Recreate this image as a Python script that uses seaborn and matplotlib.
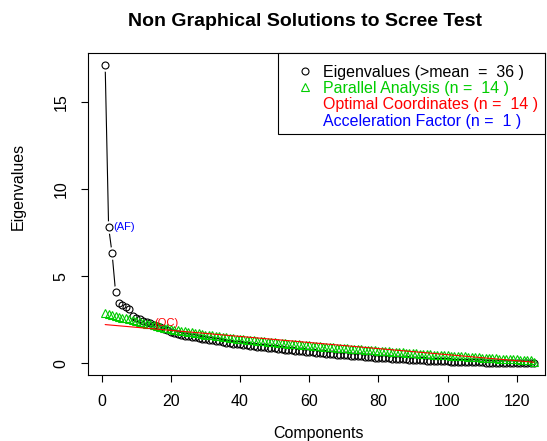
import numpy as np
import pandas as pd
import matplotlib
matplotlib.use("Agg")
import matplotlib.pyplot as plt
from matplotlib.lines import Line2D
from matplotlib.patches import Rectangle
import seaborn as sns

# ---------------- data ----------------
eigenvalues = [
    17.10, 7.80, 6.31, 4.11, 3.44, 3.33, 3.25, 3.10, 2.71, 2.62,
    2.52, 2.44, 2.37, 2.30, 2.22, 2.14, 2.06, 1.98, 1.89, 1.80,
    1.75, 1.69, 1.64, 1.59, 1.55, 1.51, 1.48, 1.44, 1.41, 1.38,
    1.35, 1.31, 1.28, 1.25, 1.22, 1.19, 1.16, 1.13, 1.11, 1.08,
    1.06, 1.03, 1.01, 0.98, 0.96, 0.94, 0.92, 0.90, 0.87, 0.85,
    0.83, 0.81, 0.78, 0.76, 0.74, 0.72, 0.70, 0.68, 0.66, 0.64,
    0.62, 0.60, 0.58, 0.57, 0.55, 0.53, 0.52, 0.50, 0.48, 0.47,
    0.45, 0.43, 0.42, 0.40, 0.39, 0.37, 0.36, 0.35, 0.33, 0.32,
    0.31, 0.29, 0.28, 0.27, 0.26, 0.25, 0.23, 0.22, 0.21, 0.20,
    0.19, 0.18, 0.17, 0.16, 0.15, 0.14, 0.13, 0.12, 0.12, 0.11,
    0.10, 0.09, 0.08, 0.08, 0.07, 0.07, 0.06, 0.06, 0.05, 0.05,
    0.04, 0.04, 0.04, 0.03, 0.03, 0.03, 0.03, 0.02, 0.02, 0.02,
    0.02, 0.02, 0.01, 0.01, 0.01,
]
parallel = [
    2.88, 2.83, 2.78, 2.72, 2.67, 2.62, 2.57, 2.52, 2.47, 2.42,
    2.37, 2.32, 2.28, 2.23, 2.18, 2.14, 2.10, 2.05, 2.01, 1.97,
    1.93, 1.90, 1.86, 1.83, 1.80, 1.77, 1.74, 1.71, 1.68, 1.65,
    1.62, 1.60, 1.57, 1.55, 1.52, 1.50, 1.47, 1.45, 1.42, 1.40,
    1.38, 1.36, 1.34, 1.32, 1.30, 1.28, 1.26, 1.24, 1.22, 1.20,
    1.18, 1.16, 1.14, 1.13, 1.11, 1.09, 1.08, 1.06, 1.05, 1.03,
    1.01, 1.00, 0.98, 0.96, 0.95, 0.93, 0.92, 0.90, 0.89, 0.87,
    0.86, 0.84, 0.83, 0.81, 0.80, 0.78, 0.77, 0.75, 0.74, 0.72,
    0.71, 0.69, 0.68, 0.67, 0.65, 0.64, 0.62, 0.61, 0.60, 0.58,
    0.57, 0.56, 0.54, 0.53, 0.52, 0.50, 0.49, 0.48, 0.46, 0.45,
    0.44, 0.43, 0.41, 0.40, 0.39, 0.38, 0.37, 0.35, 0.34, 0.33,
    0.32, 0.31, 0.30, 0.29, 0.27, 0.26, 0.25, 0.24, 0.23, 0.22,
    0.21, 0.20, 0.18, 0.17, 0.06,
]
components = list(range(1, len(eigenvalues) + 1))

oc_components = [1, 125]
oc_values = [2.22, 0.06]

n_mean = 36
n_parallel = 14
n_oc = 14
n_af = 1
af_label_component = 2
oc_label_component = 14

x_ticks = [0, 20, 40, 60, 80, 100, 120]
y_ticks = [0, 5, 10, 15]

title = "Non Graphical Solutions to Scree Test"
x_label = "Components"
y_label = "Eigenvalues"

GREEN = "#00CD00"
RED = "#FF0000"
BLUE = "#0000FF"

# ---------------- style ----------------
sns.set_theme(style="white")
plt.rcParams["font.family"] = ["Liberation Sans", "DejaVu Sans"]
plt.rcParams["axes.edgecolor"] = "black"

df = pd.DataFrame({"Component": components, "Eigenvalue": eigenvalues, "Parallel": parallel})
df_oc = pd.DataFrame({"Component": oc_components, "OC": oc_values})

W, H = 547, 441
fig = plt.figure(figsize=(W / 100, H / 100), dpi=100)
left, right, top, bottom = 88, 545, 52.7, 375
ax = fig.add_axes([left / W, 1 - bottom / H, (right - left) / W, (bottom - top) / H])

# eigenvalues: type "b" (line with gaps around points)
sns.lineplot(data=df, x="Component", y="Eigenvalue", ax=ax, color="black",
             linewidth=0.8, zorder=2, estimator=None, sort=False)
sns.lineplot(data=df, x="Component", y="Eigenvalue", ax=ax, color="white",
             linestyle="none", marker="o", markersize=9, markeredgecolor="none",
             markerfacecolor="white", zorder=2.1, estimator=None, sort=False)
sns.lineplot(data=df, x="Component", y="Eigenvalue", ax=ax, color="black",
             linestyle="none", marker="o", markersize=5.0, markerfacecolor="none",
             markeredgecolor="black", markeredgewidth=0.8, zorder=2.2,
             estimator=None, sort=False)

# parallel analysis
sns.lineplot(data=df, x="Component", y="Parallel", ax=ax, color=GREEN,
             linestyle="none", marker="^", markersize=6, markerfacecolor="none",
             markeredgecolor=GREEN, markeredgewidth=0.8, zorder=3,
             estimator=None, sort=False)

# optimal coordinates line
sns.lineplot(data=df_oc, x="Component", y="OC", ax=ax, color=RED,
             linewidth=0.8, zorder=3.5, estimator=None, sort=False)

# labels (AF) and (OC)
ax.annotate("(AF)", xy=(af_label_component, eigenvalues[af_label_component - 1]),
            xytext=(3, 0), textcoords="offset points", color=BLUE, fontsize=8,
            ha="left", va="center", zorder=5)
ax.annotate("(OC)", xy=(oc_label_component, eigenvalues[oc_label_component - 1]),
            xytext=(3, 0), textcoords="offset points", color=RED, fontsize=8,
            ha="left", va="center", zorder=5)

# axes
x0_px, x120_px = 101.7, 516.7
ppu = (x120_px - x0_px) / 120
ax.set_xlim((left - x0_px) / ppu, (right - x0_px) / ppu)
y0_px, y15_px = 363.3, 101.7
ppy = (y0_px - y15_px) / 15
ax.set_ylim(-(bottom - y0_px) / ppy, (y0_px - top) / ppy)
ax.set_xticks(x_ticks)
ax.set_yticks(y_ticks)
ax.set_xticklabels([str(t) for t in x_ticks])
ax.set_yticklabels([str(t) for t in y_ticks])
ax.tick_params(axis="both", direction="out", length=5, width=0.8, color="black",
               labelsize=11.5, pad=9, labelcolor="black", bottom=True, left=True)
ax.tick_params(axis="y", labelrotation=90)
for lab in ax.get_yticklabels():
    lab.set_va("center")
for sp in ax.spines.values():
    sp.set_visible(True)
    sp.set_linewidth(0.8)
    sp.set_color("black")

ax.set_xlabel(x_label, fontsize=11.5, color="black")
ax.set_ylabel(y_label, fontsize=11.5, color="black")
ax.xaxis.set_label_coords((319 - left) / (right - left), -(434 - bottom) / (bottom - top))
ax.yaxis.set_label_coords(-(left - 18) / (right - left), (bottom - 186.5) / (bottom - top))
ax.xaxis.label.set_va("center")
ax.yaxis.label.set_va("center")

fig.text(305.5 / W, 1 - 22 / H, title, ha="center", va="center",
         fontsize=14, fontweight="bold", color="black")

# legend box
box_l, box_t, box_r, box_b = 278, 53.3, 545, 134.3
ax.add_patch(Rectangle((box_l / W, 1 - box_b / H), (box_r - box_l) / W, (box_b - box_t) / H,
                       transform=fig.transFigure, facecolor="white", edgecolor="black",
                       linewidth=0.8, zorder=4.5, clip_on=False))

# legend
handles = [
    Line2D([], [], marker="o", linestyle="none", markerfacecolor="none",
           markeredgecolor="black", markersize=5.0, markeredgewidth=0.8),
    Line2D([], [], marker="^", linestyle="none", markerfacecolor="none",
           markeredgecolor=GREEN, markersize=6, markeredgewidth=0.8),
    Line2D([], [], linestyle="none"),
    Line2D([], [], linestyle="none"),
]
labels = [
    f"Eigenvalues (>mean  =  {n_mean} )",
    f"Parallel Analysis (n =  {n_parallel} )",
    f"Optimal Coordinates (n =  {n_oc} )",
    f"Acceleration Factor (n =  {n_af} )",
]
leg = ax.legend(handles, labels, loc="upper left",
                bbox_to_anchor=(289 / W, 1 - 64.5 / H), bbox_transform=fig.transFigure,
                borderaxespad=0, frameon=False, fontsize=11.5,
                labelcolor=["black", GREEN, RED, BLUE], handlelength=2.0,
                handletextpad=0.15, borderpad=0, labelspacing=0.09)
leg.set_zorder(5)

fig.savefig("out.png", dpi=100)
